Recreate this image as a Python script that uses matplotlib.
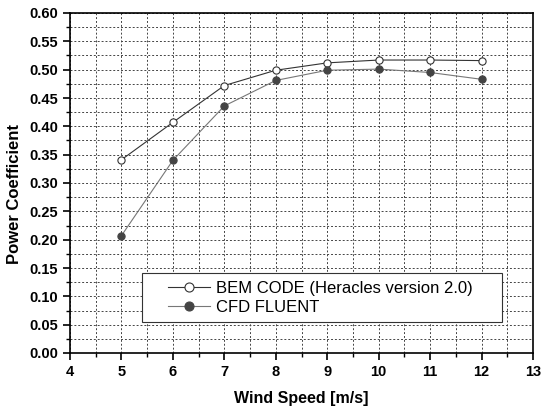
import numpy as np
import matplotlib.pyplot as plt
from matplotlib.ticker import MultipleLocator
from matplotlib.legend_handler import HandlerLine2D

plt.rcParams['font.family'] = ['Liberation Sans', 'DejaVu Sans']

# donnees
wind = [5, 6, 7, 8, 9, 10, 11, 12]
cp_bem = [0.341, 0.407, 0.472, 0.499, 0.512, 0.517, 0.517, 0.516]
cp_cfd = [0.207, 0.340, 0.436, 0.481, 0.499, 0.501, 0.495, 0.483]

fig = plt.figure(figsize=(5.41, 4.11), dpi=100)
ax = fig.add_axes([70/541, 1 - 353/411, 463/541, 340/411])

ax.plot(wind, cp_bem, '-o', color='#333333', lw=0.8, ms=5.2,
        mfc='white', mec='#333333', mew=0.8, label='BEM CODE (Heracles version 2.0)')
ax.plot(wind, cp_cfd, '-o', color='#777777', lw=0.8, ms=5.2,
        mfc='#444444', mec='#444444', mew=0.8, label='CFD FLUENT')

ax.set_xlim(4, 13)
ax.set_ylim(0, 0.6)
ax.xaxis.set_major_locator(MultipleLocator(1))
ax.xaxis.set_minor_locator(MultipleLocator(0.5))
ax.yaxis.set_major_locator(MultipleLocator(0.05))
ax.yaxis.set_minor_locator(MultipleLocator(0.025))
ax.set_yticklabels(['%.2f' % v for v in ax.get_yticks()])
ax.grid(which='both', ls=(0, (2, 2)), color='#444444', lw=0.7)

ax.tick_params(which='major', direction='out', length=5, width=1.2, labelsize=10.5)
ax.tick_params(which='minor', direction='out', length=3, width=1.0)
for lab in ax.get_xticklabels() + ax.get_yticklabels():
    lab.set_fontweight('bold')
for s in ax.spines.values():
    s.set_linewidth(1.2)

ax.set_xlabel('Wind Speed [m/s]', fontsize=11.5, fontweight='bold', labelpad=9)
ax.set_ylabel('Power Coefficient', fontsize=12, fontweight='bold')
ax.yaxis.set_label_coords(-0.104, 0.468)

# legende : cadre large, trait de symbole decale vers la droite
leg = ax.legend(loc='upper left', bbox_to_anchor=(72/463, 80/340, 360/463, 0),
                mode='expand', fontsize=12, frameon=True, fancybox=False,
                handlelength=3.6, handletextpad=0.36, borderpad=0.45,
                labelspacing=0.25, borderaxespad=0,
                handler_map={plt.Line2D: HandlerLine2D(xpad=1.1)})
leg.get_frame().set_edgecolor('#333333')
leg.get_frame().set_linewidth(0.8)
leg.get_frame().set_alpha(1)
for h in leg.legend_handles:
    h.set_markersize(6.5)

plt.savefig('out.png', dpi=100)
